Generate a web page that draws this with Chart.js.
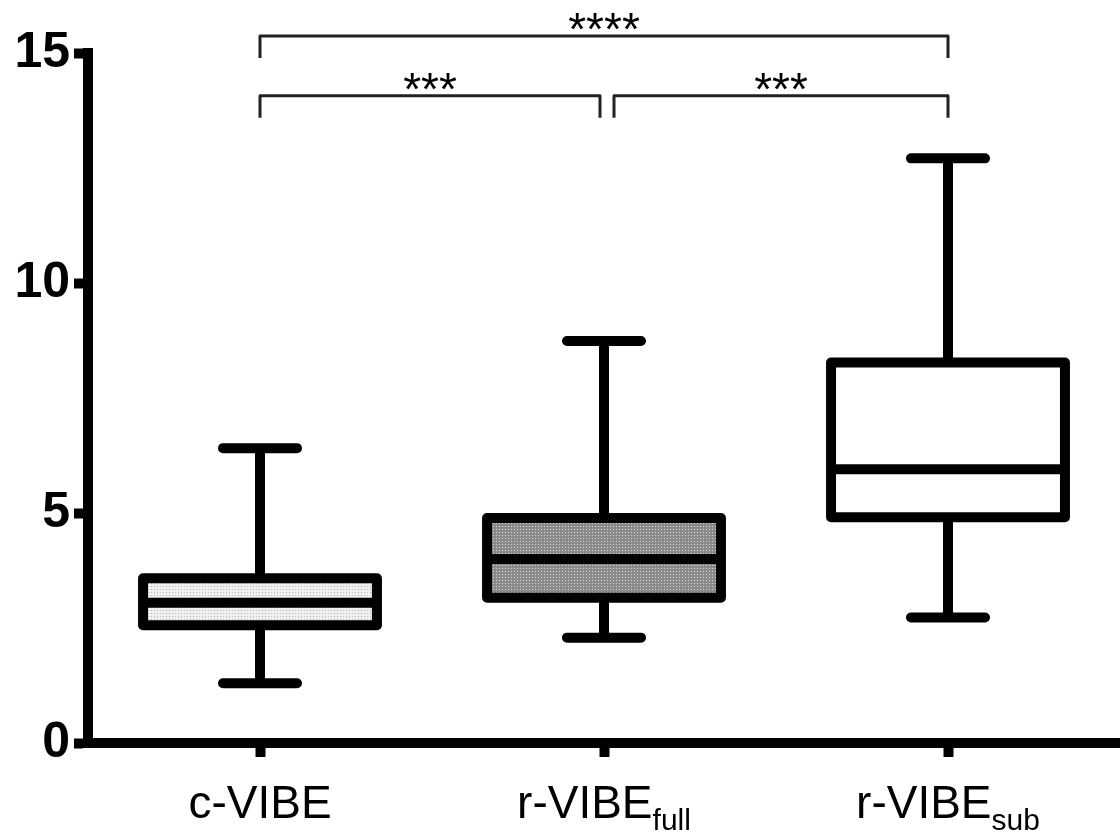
<!DOCTYPE html>
<html>
<head>
<meta charset="utf-8">
<script src="https://cdn.jsdelivr.net/npm/chart.js@4/dist/chart.umd.min.js"></script>
<style>
  html, body { margin: 0; padding: 0; background: #fff; }
  #wrap { width: 1120px; height: 835px; position: relative; }
</style>
</head>
<body>
<div id="wrap"><canvas id="boxChart"></canvas></div>
<script>
// groups on the x axis (main label + subscript)
const categories = ['c-VIBE', 'r-VIBE', 'r-VIBE'];
const subscripts = ['', 'full', 'sub'];

// box plot values
const mins    = [1.30, 2.29, 2.73];
const q1s     = [2.56, 3.16, 4.91];
const medians = [3.05, 4.00, 5.95];
const q3s     = [3.58, 4.89, 8.27];
const maxs    = [6.41, 8.74, 12.71];

const yTicks = [0, 5, 10, 15];

// significance brackets: from group, to group, height, stars
const bracketFrom  = [0, 1, 0];
const bracketTo    = [1, 2, 2];
const bracketY     = [14.07, 14.07, 15.37];
const bracketLabel = ['***', '***', '****'];

function makePattern(base, dot) {
    const c = document.createElement('canvas');
    c.width = 3;
    c.height = 3;
    const g = c.getContext('2d');
    g.fillStyle = base;
    g.fillRect(0, 0, 3, 3);
    g.fillStyle = dot;
    g.fillRect(1, 1, 1, 1);
    return g.createPattern(c, 'repeat');
}

const ctx = document.getElementById('boxChart').getContext('2d');
const fills = [
    makePattern('#efefef', '#b4b4b4'),
    makePattern('#8a8a8a', '#d6d6d6'),
    '#ffffff'
];

const boxPlugin = {
    id: 'boxPlugin',
    afterDatasetsDraw(chart) {
        const c = chart.ctx;
        const y = chart.scales.y;
        const meta = chart.getDatasetMeta(0);
        c.save();
        c.strokeStyle = '#000';
        c.lineWidth = 10;
        meta.data.forEach((bar, i) => {
            const half = bar.width / 2;
            const x = bar.x;
            const yq1 = y.getPixelForValue(q1s[i]);
            const yq3 = y.getPixelForValue(q3s[i]);
            const ymed = y.getPixelForValue(medians[i]);
            const ymin = y.getPixelForValue(mins[i]);
            const ymax = y.getPixelForValue(maxs[i]);

            // whiskers
            c.lineCap = 'butt';
            c.beginPath();
            c.moveTo(x, yq3); c.lineTo(x, ymax);
            c.moveTo(x, yq1); c.lineTo(x, ymin);
            c.stroke();
            c.lineCap = 'round';
            c.beginPath();
            c.moveTo(x - 37, ymax); c.lineTo(x + 37, ymax);
            c.moveTo(x - 37, ymin); c.lineTo(x + 37, ymin);
            c.stroke();

            // box outline and median
            c.lineJoin = 'round';
            c.strokeRect(x - half, yq3, half * 2, yq1 - yq3);
            c.lineCap = 'butt';
            c.beginPath();
            c.moveTo(x - half, ymed); c.lineTo(x + half, ymed);
            c.stroke();
        });
        c.restore();
    },
    afterDraw(chart) {
        const c = chart.ctx;
        const xs = chart.scales.x;
        const y = chart.scales.y;
        c.save();

        // x labels with subscripts
        c.fillStyle = '#000';
        c.textBaseline = 'alphabetic';
        categories.forEach((name, i) => {
            const cx = xs.getPixelForValue(i);
            c.font = '46px "Liberation Sans", Arial, sans-serif';
            const w1 = c.measureText(name).width;
            c.font = '30px "Liberation Sans", Arial, sans-serif';
            const w2 = subscripts[i] ? c.measureText(subscripts[i]).width : 0;
            const left = cx - (w1 + w2) / 2;
            c.font = '46px "Liberation Sans", Arial, sans-serif';
            c.textAlign = 'left';
            c.fillText(name, left, 818);
            if (subscripts[i]) {
                c.font = '30px "Liberation Sans", Arial, sans-serif';
                c.fillText(subscripts[i], left + w1, 830);
            }
        });

        // significance brackets
        c.strokeStyle = '#222';
        c.lineWidth = 3;
        c.lineJoin = 'round';
        c.textAlign = 'center';
        c.font = '46px "Liberation Sans", Arial, sans-serif';
        bracketFrom.forEach((from, i) => {
            let x1 = xs.getPixelForValue(from);
            let x2 = xs.getPixelForValue(bracketTo[i]);
            if (bracketTo[i] - from === 1) {
                if (from === 0) x2 -= 4;
                else x1 += 10;
            }
            const yTop = y.getPixelForValue(bracketY[i]);
            const yEnd = y.getPixelForValue(bracketY[i] - 0.48);
            c.beginPath();
            c.moveTo(x1, yEnd);
            c.lineTo(x1, yTop);
            c.lineTo(x2, yTop);
            c.lineTo(x2, yEnd);
            c.stroke();
            c.fillText(bracketLabel[i], (x1 + x2) / 2, yTop + 9);
        });
        c.restore();
    }
};

new Chart(ctx, {
    type: 'bar',
    data: {
        labels: categories,
        datasets: [{
            data: categories.map((_, i) => [q1s[i], q3s[i]]),
            backgroundColor: fills,
            borderWidth: 0,
            barPercentage: 0.68,
            categoryPercentage: 1
        }]
    },
    options: {
        responsive: true,
        maintainAspectRatio: false,
        animation: false,
        layout: { padding: { top: 53, right: 0, left: 0, bottom: 0 } },
        plugins: {
            legend: { display: false },
            tooltip: { enabled: false }
        },
        scales: {
            x: {
                offset: true,
                grid: {
                    drawOnChartArea: false,
                    drawTicks: true,
                    tickLength: 14,
                    tickWidth: 10,
                    tickColor: '#000',
                    offset: false
                },
                border: { display: true, color: '#000', width: 10 },
                ticks: { display: false },
                afterFit: (scale) => { scale.height = 92; }
            },
            y: {
                min: 0,
                max: 15,
                afterBuildTicks: (scale) => { scale.ticks = yTicks.map(v => ({ value: v })); },
                grid: {
                    drawOnChartArea: false,
                    drawTicks: true,
                    tickLength: 14,
                    tickWidth: 10,
                    tickColor: '#000'
                },
                border: { display: true, color: '#000', width: 10 },
                ticks: {
                    color: '#000',
                    padding: 4,
                    font: { family: '"Liberation Sans", Arial, sans-serif', size: 50, weight: 'bold' }
                },
                afterFit: (scale) => { scale.width = 88; }
            }
        }
    },
    plugins: [boxPlugin]
});
</script>
</body>
</html>
